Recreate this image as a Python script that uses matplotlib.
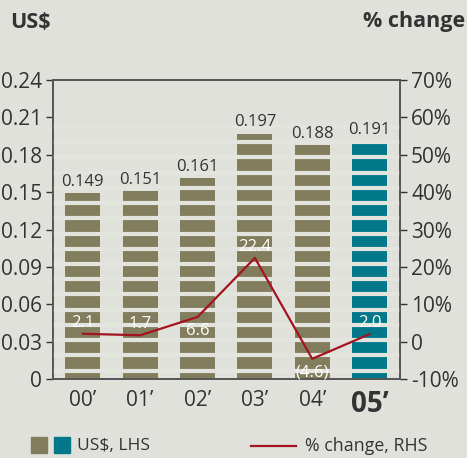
import matplotlib
matplotlib.use("Agg")
import matplotlib.pyplot as plt
from matplotlib.patches import Rectangle
from matplotlib.lines import Line2D
import numpy as np

plt.rcParams['font.family'] = ['Open Sans', 'DejaVu Sans']

categories = ["00\u2019", "01\u2019", "02\u2019", "03\u2019", "04\u2019", "05\u2019"]
usd = [0.149, 0.151, 0.161, 0.197, 0.188, 0.191]
pct = [2.1, 1.7, 6.6, 22.4, -4.6, 2.0]
pct_labels = ["2.1", "1.7", "6.6", "22.4", "(4.6)", "2.0"]
pct_label_below = [False, False, True, False, True, False]
left_ticks = [0, 0.03, 0.06, 0.09, 0.12, 0.15, 0.18, 0.21, 0.24]
left_ticklabels = ["0", "0.03", "0.06", "0.09", "0.12", "0.15", "0.18", "0.21", "0.24"]
right_ticks = [-10, 0, 10, 20, 30, 40, 50, 60, 70]
right_ticklabels = ["-10%", "0", "10%", "20%", "30%", "40%", "50%", "60%", "70%"]

BG = "#E1E1DC"
OLIVE = "#827D5C"
TEAL = "#00788A"
RED = "#A5141E"
DARK = "#333333"
STRIPE = "#E4E4DF"

fig = plt.figure(figsize=(4.67, 4.58), dpi=100, facecolor=BG)
ax = fig.add_axes([0.1135, 0.1725, 0.743, 0.6528])
ax.set_facecolor(BG)
x = np.arange(len(categories))
colors = [OLIVE] * 5 + [TEAL]
ax.bar(x, usd, width=0.61, color=colors, zorder=2)
# stripes across bars
stripe_y = 0.0067 + 0.01223 * np.arange(0, 17)
ax.hlines(stripe_y, -1, 6, colors=STRIPE, linewidth=3.0, zorder=3)
ax.set_xlim(-0.52, 5.53)
ax.set_ylim(0, 0.24)
ax.set_yticks(left_ticks)
ax.set_yticklabels(left_ticklabels, fontsize=15, color=DARK)
ax.set_xticks(x)
ax.set_xticklabels(categories, fontsize=15, color=DARK)
tl = ax.get_xticklabels()
tl[-1].set_fontweight('bold')
tl[-1].set_fontsize(20)
ax.tick_params(axis='x', length=0, pad=8)
ax.tick_params(axis='y', length=5, width=1, color=DARK, pad=3)
for s in ax.spines.values():
    s.set_color("#555555")
    s.set_linewidth(1.2)

for xi, v in zip(x, usd):
    ax.text(xi, v + 0.0025, f"{v:.3f}", ha='center', va='bottom', fontsize=12, color=DARK, zorder=5)

ax2 = ax.twinx()
ax2.set_ylim(-10, 70)
ax2.set_yticks(right_ticks)
ax2.set_yticklabels(right_ticklabels, fontsize=15, color=DARK)
ax2.tick_params(axis='y', length=5, width=1, color=DARK, pad=3)
for s in ax2.spines.values():
    s.set_color("#555555")
    s.set_linewidth(1.2)
ax2.plot(x, pct, color=RED, linewidth=1.6, zorder=6)
for xi, v, lab, below in zip(x, pct, pct_labels, pct_label_below):
    if below:
        ax2.annotate(lab, (xi, v), xytext=(0, -4), textcoords='offset points',
                     ha='center', va='top', fontsize=12, color='white', zorder=7)
    else:
        ax2.annotate(lab, (xi, v), xytext=(0, 2), textcoords='offset points',
                     ha='center', va='bottom', fontsize=12, color='white', zorder=7)

# header
fig.text(10 / 467, 1 - 22 / 458, "US$", fontsize=15.5, fontweight='bold', color=DARK, ha='left', va='center')
fig.text(465 / 467, 1 - 22 / 458, "% change", fontsize=15.5, fontweight='bold', color=DARK, ha='right', va='center')

# legend
W, H = 467, 458
fig.patches.append(Rectangle((31 / W, 1 - 453 / H), 16 / W, 16 / H, transform=fig.transFigure, color=OLIVE))
fig.patches.append(Rectangle((54 / W, 1 - 453 / H), 16 / W, 16 / H, transform=fig.transFigure, color=TEAL))
fig.text(77 / W, 1 - 446 / H, "US$, LHS", fontsize=12.5, color=DARK, ha='left', va='center')
fig.lines.append(Line2D([251 / W, 296 / W], [1 - 446 / H, 1 - 446 / H], transform=fig.transFigure, color=RED, linewidth=1.6))
fig.text(305 / W, 1 - 446 / H, "% change, RHS", fontsize=12.8, color=DARK, ha='left', va='center')

fig.savefig("out.png", dpi=100, facecolor=BG)
